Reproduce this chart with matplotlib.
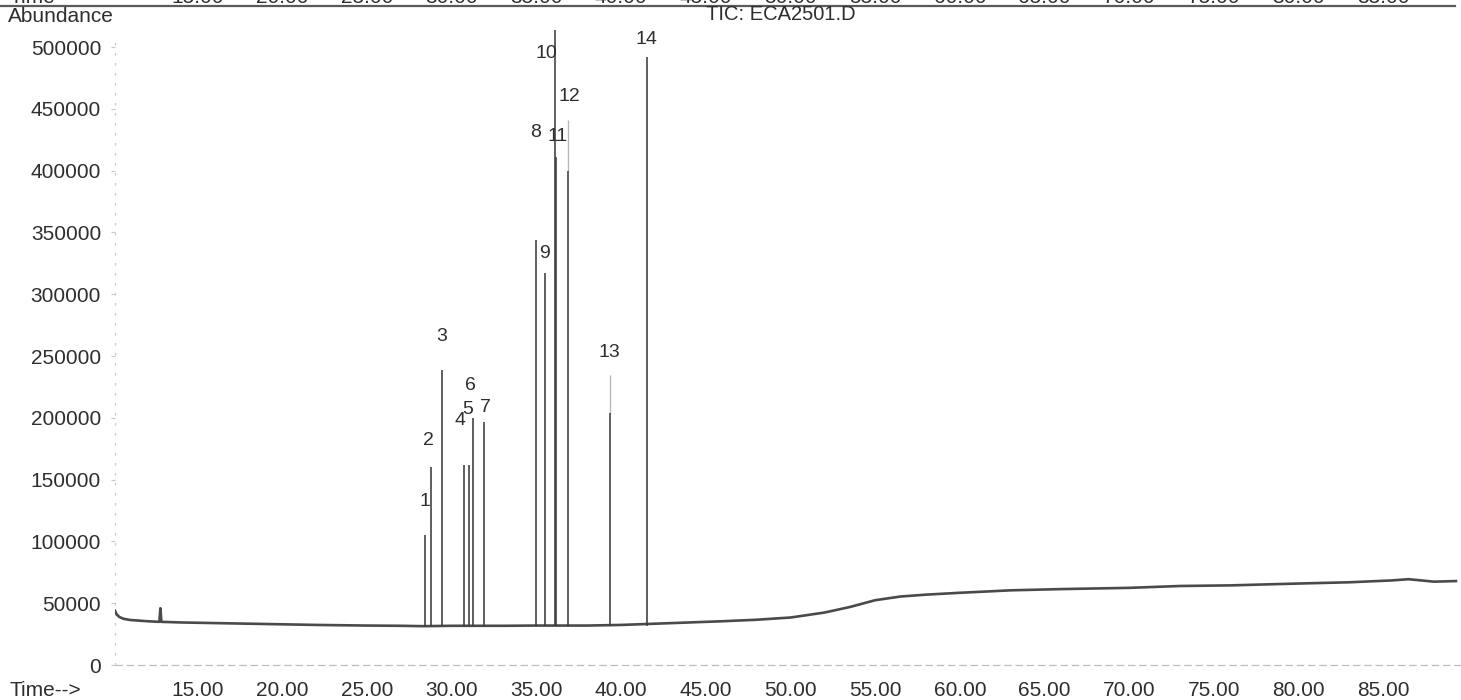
import matplotlib
matplotlib.use("Agg")
import matplotlib.pyplot as plt
from matplotlib.lines import Line2D
import matplotlib.transforms as mtrans

plt.rcParams['font.family'] = ['Liberation Sans', 'DejaVu Sans']

# ---------------- data ----------------
base_time = [10.1, 10.2, 10.35, 10.6, 11.0, 12.0, 12.72, 12.78, 12.84, 14.0, 16.0,
             18.0, 20.0, 22.0, 25.0, 27.0, 28.3, 30.0, 33.0, 35.0, 38.0, 40.0,
             42.0, 44.0, 46.0, 48.0, 50.0, 52.0, 53.5, 55.0, 56.5, 58.0, 60.0,
             63.0, 66.0, 70.0, 73.0, 76.0, 80.0, 83.0, 85.5, 86.5, 88.0, 89.3]
base_abund = [44000, 41000, 39000, 37500, 36500, 35500, 35000, 46000, 35000, 34500, 34000,
              33500, 33000, 32500, 32000, 31800, 31500, 31800, 31800, 32000, 32000, 32500,
              33500, 34500, 35500, 36700, 38500, 42500, 47000, 52500, 55500, 57000, 58500,
              60500, 61500, 62500, 64000, 64500, 66000, 67000, 68500, 69500, 67500, 68000]

peak_ids = ["1", "2", "3", "4", "5", "6", "7", "8", "9", "10", "11", "12", "13", "14"]
peak_time = [28.41, 28.74, 29.43, 30.73, 30.99, 31.23, 31.91, 34.96, 35.50, 36.09, 36.13,
             36.87, 39.34, 41.50]
peak_abund = [105000, 160000, 239000, 162000, 162000, 200000, 197000, 344000, 317000,
              514000, 411000, 400000, 204000, 492000]
peak_floor = 31500

faint_time = [36.87, 39.34]
faint_low = [400000, 204000]
faint_high = [441000, 235000]

label_time = [28.41, 28.64, 29.39, 30.47, 30.91, 31.11, 31.99, 34.96, 35.44, 35.60, 36.26,
              36.91, 39.30, 41.50]
label_abund = [132000, 182000, 266000, 198000, 207000, 226500, 208500, 430600, 333300,
               494900, 427900, 459800, 252700, 505700]

y_ticks = [0, 50000, 100000, 150000, 200000, 250000, 300000, 350000, 400000, 450000, 500000]
x_ticks = [15, 20, 25, 30, 35, 40, 45, 50, 55, 60, 65, 70, 75, 80, 85]
x_tick_labels = ["15.00", "20.00", "25.00", "30.00", "35.00", "40.00", "45.00", "50.00",
                 "55.00", "60.00", "65.00", "70.00", "75.00", "80.00", "85.00"]
title_text = "TIC: ECA2501.D"

# ---------------- figure ----------------
W, H = 1461, 700
fig = plt.figure(figsize=(W / 100, H / 100), dpi=100)
fig.patch.set_facecolor('white')

ax_left, ax_bottom_px, ax_top_px = 115, 675, 22.3
ax = fig.add_axes([ax_left / W, (H - ax_bottom_px) / H, 1 - ax_left / W,
                   (ax_bottom_px - ax_top_px) / H])
ax.set_xlim(10.1, 89.6)
ax.set_ylim(-8000, 520000)
ax.set_facecolor('none')
for s in ax.spines.values():
    s.set_visible(False)

txt_col = '#2e2e2e'
trace_col = '#3c3c3c'

# zero line and y-axis (faint, dotted as in the scan)
ax.axhline(0, color='#bdbdbd', lw=0.9, ls=(0, (6, 3)), zorder=1)
ax.plot([10.1, 10.1], [0, 505000], color='#c8c8c8', lw=0.9, ls=(0, (2, 6)), zorder=1,
        clip_on=False)

# baseline
ax.plot(base_time, base_abund, color='#4a4a4a', lw=1.9, zorder=3, solid_joinstyle='round')
# peaks
ax.vlines(peak_time, peak_floor, peak_abund, color=trace_col, lw=1.15, zorder=3)
ax.vlines(faint_time, faint_low, faint_high, color='#b8b8b8', lw=1.0, zorder=2)

# peak labels
for lab, t, v in zip(peak_ids, label_time, label_abund):
    ax.text(t, v, lab, ha='center', va='center', fontsize=14, color=txt_col, zorder=4)

# ticks
ax.set_yticks(y_ticks)
ax.set_yticklabels([str(v) for v in y_ticks])
ax.tick_params(axis='y', length=3, width=0.8, color='#c8c8c8', pad=7,
               labelsize=15, labelcolor=txt_col)
ax.set_xticks(x_ticks)
ax.set_xticklabels(x_tick_labels)
ax.tick_params(axis='x', length=0, pad=4, labelsize=15, labelcolor=txt_col)

# texts around the plot
fig.text(8 / W, 1 - 17 / H, "Abundance", ha='left', va='center', fontsize=15, color=txt_col)
fig.text(706 / W, 1 - 15 / H, title_text, ha='left', va='center', fontsize=14.5,
         color=txt_col)
fig.text(9 / W, 1 - 690 / H, "Time-->", ha='left', va='center', fontsize=15, color=txt_col)

# cut-off header of the previous panel
fig.add_artist(Line2D([0, 1455 / W], [1 - 6 / H, 1 - 6 / H], transform=fig.transFigure,
                      color='#5a5a5a', lw=1.6))
fig.text(10 / W, 1 - 3 / H, "Time", ha='left', va='baseline', fontsize=15, color=txt_col)
blend = mtrans.blended_transform_factory(ax.transData, fig.transFigure)
for t, lab in zip(x_ticks, x_tick_labels):
    ax.text(t, 1 - 3 / H, lab, transform=blend, ha='center', va='baseline', fontsize=15,
            color=txt_col, clip_on=False)

fig.savefig("out.png", dpi=100, facecolor='white')
